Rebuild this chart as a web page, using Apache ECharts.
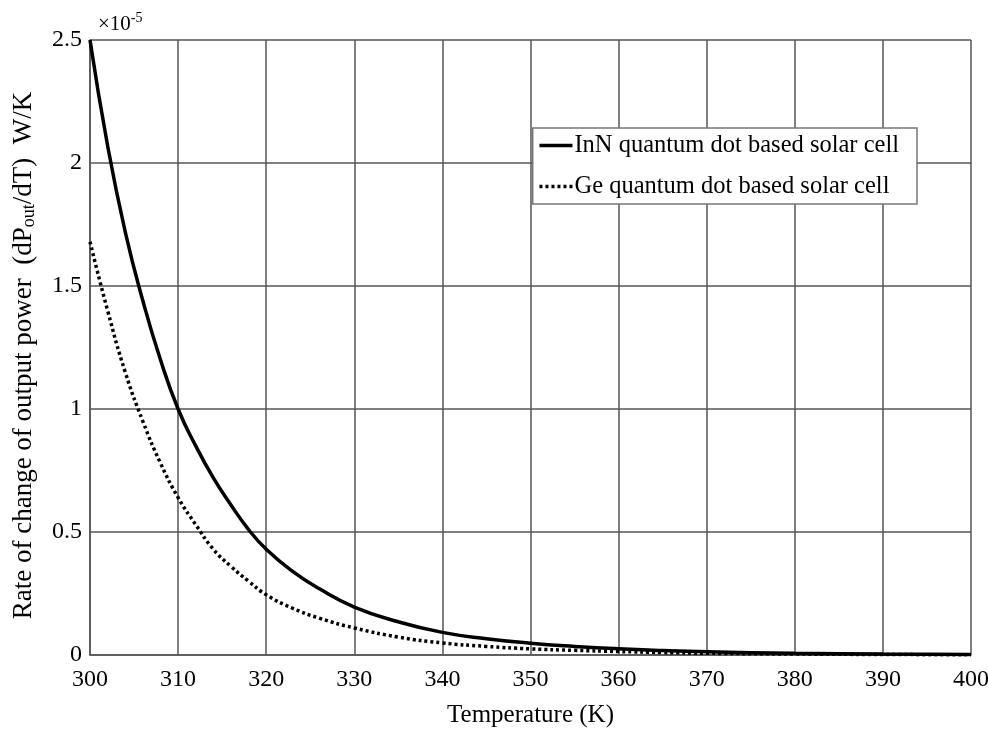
<!DOCTYPE html>
<html>
<head>
<meta charset="utf-8">
<script src="https://cdn.jsdelivr.net/npm/echarts@6/dist/echarts.min.js"></script>
<style>
  html, body { margin: 0; padding: 0; background: #fff; }
  #main { width: 988px; height: 729px; }
</style>
</head>
<body>
<div id="main"></div>
<script>
// temperatures (K) and dP/dT values in units of 1e-5 W/K
var temps = [300, 302, 304, 306, 308, 310, 312, 314, 316, 318, 320, 323, 326, 330, 335, 340, 345, 350, 355, 360, 365, 370, 380, 390, 400];
var innValues = [2.50, 2.07, 1.72, 1.44, 1.20, 1.00, 0.85, 0.72, 0.61, 0.51, 0.43, 0.34, 0.27, 0.195, 0.135, 0.092, 0.066, 0.048, 0.035, 0.025, 0.018, 0.013, 0.007, 0.004, 0.002];
var geValues = [1.68, 1.40, 1.15, 0.95, 0.78, 0.64, 0.53, 0.43, 0.36, 0.30, 0.245, 0.19, 0.15, 0.11, 0.073, 0.049, 0.035, 0.025, 0.019, 0.014, 0.010, 0.007, 0.004, 0.002, 0.001];
var seriesNames = ['InN quantum dot based solar cell', 'Ge quantum dot based solar cell'];

function pairs(xs, ys) {
    return xs.map(function (x, i) { return [x, ys[i]]; });
}

var font = 'Liberation Serif';
var myChart = echarts.init(document.getElementById('main'));
var option = {
    animation: false,
    backgroundColor: '#fff',
    title: {
        text: '×10{sup|-5}',
        left: 93,
        top: 6,
        textStyle: {
            fontFamily: font,
            fontSize: 21,
            fontWeight: 'normal',
            color: '#000',
            rich: {
                sup: { fontFamily: font, fontSize: 14, verticalAlign: 'top', padding: [0, 0, 12, 0], color: '#000' }
            }
        }
    },
    grid: {
        left: 90,
        right: 17,
        top: 40,
        bottom: 74,
        outerBoundsMode: 'none'
    },
    legend: {
        right: 71,
        top: 128,
        orient: 'vertical',
        backgroundColor: '#fff',
        borderColor: '#777',
        borderWidth: 1.5,
        borderRadius: 0,
        padding: [5, 18, 5, 5],
        itemGap: 16,
        itemWidth: 33,
        itemHeight: 20,
        itemStyle: { opacity: 0 },
        lineStyle: { width: 3.5 },
        textStyle: { fontFamily: font, fontSize: 24.5, color: '#000', padding: [0, 0, 0, -3] },
        data: seriesNames
    },
    xAxis: {
        type: 'value',
        name: 'Temperature (K)',
        nameLocation: 'middle',
        nameGap: 48,
        nameTextStyle: { fontFamily: font, fontSize: 25, color: '#000' },
        min: 300,
        max: 400,
        interval: 10,
        axisLine: { show: true, lineStyle: { color: '#555', width: 1.5 } },
        axisTick: { show: false },
        axisLabel: { fontFamily: font, fontSize: 24, color: '#000', margin: 13 },
        splitLine: { show: true, lineStyle: { color: '#555', width: 1.5 } }
    },
    yAxis: {
        type: 'value',
        name: 'Rate of change of output power  (dP{sub|out}/dT)  W/K',
        nameLocation: 'middle',
        nameGap: 52,
        nameTextStyle: {
            fontFamily: font,
            fontSize: 27,
            color: '#000',
            padding: [0, 16, 0, 0],
            rich: {
                sub: { fontFamily: font, fontSize: 18, verticalAlign: 'bottom', padding: [10, 0, 0, 0], color: '#000' }
            }
        },
        min: 0,
        max: 2.5,
        interval: 0.5,
        axisLine: { show: true, lineStyle: { color: '#555', width: 1.5 } },
        axisTick: { show: false },
        axisLabel: { fontFamily: font, fontSize: 24, color: '#000', margin: 8 },
        splitLine: { show: true, lineStyle: { color: '#555', width: 1.5 } }
    },
    series: [
        {
            name: seriesNames[0],
            type: 'line',
            smooth: true,
            symbol: 'none',
            data: pairs(temps, innValues),
            lineStyle: { color: '#000', width: 3.5, type: 'solid' },
            itemStyle: { color: '#000' },
            z: 3
        },
        {
            name: seriesNames[1],
            type: 'line',
            smooth: true,
            symbol: 'none',
            data: pairs(temps, geValues),
            lineStyle: { color: '#000', width: 3.5, type: [3, 3] },
            itemStyle: { color: '#000' },
            z: 2
        }
    ]
};
myChart.setOption(option);
</script>
</body>
</html>
